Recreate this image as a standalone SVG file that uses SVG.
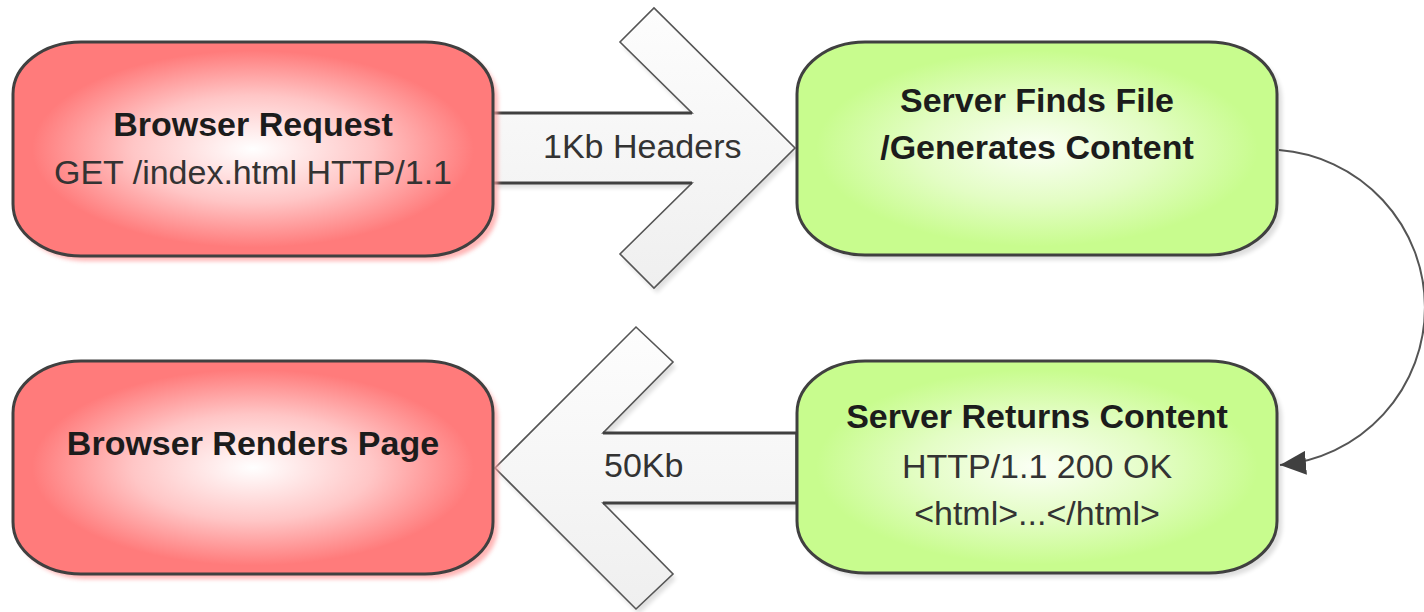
<svg xmlns="http://www.w3.org/2000/svg" width="1424" height="612" viewBox="0 0 1424 612">
<defs>
<radialGradient id="gRed" cx="0.5" cy="0.5" r="0.5">
<stop offset="0" stop-color="#ffffff"/>
<stop offset="0.5" stop-color="#ffc6c6"/>
<stop offset="0.92" stop-color="#ff7b7b"/>
</radialGradient>
<radialGradient id="gGreen" cx="0.5" cy="0.5" r="0.5">
<stop offset="0" stop-color="#fbfff5"/>
<stop offset="0.5" stop-color="#e3fdc4"/>
<stop offset="0.92" stop-color="#c8fc8e"/>
</radialGradient>
<linearGradient id="gArrow" x1="0" y1="0" x2="0" y2="1">
<stop offset="0" stop-color="#fdfdfd"/>
<stop offset="1" stop-color="#efefef"/>
</linearGradient>
<filter id="blur" x="-10%" y="-10%" width="120%" height="120%">
<feGaussianBlur stdDeviation="2"/>
</filter>
<marker id="head" markerWidth="28" markerHeight="24" refX="26" refY="12" orient="auto" markerUnits="userSpaceOnUse">
<path d="M0,0 L26,12 L0,24 Z" fill="#404040"/>
</marker>
</defs>
<style>
.node { stroke: #404040; stroke-width: 3; }
.shR { fill: #ff9c9c; opacity: 0.75; }
.shG { fill: #000; opacity: 0.13; }
.bold { font-family: "Liberation Sans", Arial, sans-serif; font-size: 34px; font-weight: bold; fill: #1c1c1c; text-anchor: middle; }
.reg { font-family: "Liberation Sans", Arial, sans-serif; font-size: 34px; fill: #333333; text-anchor: middle; }
.lbl { font-family: "Liberation Sans", Arial, sans-serif; font-size: 34px; fill: #333333; }
.arrow { fill: url(#gArrow); stroke: #555555; stroke-width: 1.6; stroke-linejoin: miter; }
.shaft { stroke: #404040; stroke-width: 3; fill: none; }
.ash { fill: #000; opacity: 0.12; }
.conn { fill: none; stroke: #555555; stroke-width: 2; }
</style>

<g id="connectors">
<g id="arrow-headers">
<polygon class="ash" filter="url(#blur)" transform="translate(3,5)" points="493,113 692,113 620,42 654,8 795,148 654,288 620,254 692,183 493,183"/>
<polygon class="arrow" points="493,113 692,113 620,42 654,8 795,148 654,288 620,254 692,183 493,183"/>
<path class="shaft" d="M493,113 H692 M493,183 H692"/>
<text class="lbl" x="543" y="158">1Kb Headers</text>
</g>
<g id="arrow-50kb">
<polygon class="ash" filter="url(#blur)" transform="translate(3,5)" points="796,433 603,433 673,362 636,327 495,468 636,609 673,574 603,503 796,503"/>
<polygon class="arrow" points="796,433 603,433 673,362 636,327 495,468 636,609 673,574 603,503 796,503"/>
<path class="shaft" d="M796,433 H603 M796,503 H603"/>
<text class="lbl" x="604" y="477">50Kb</text>
</g>
<path id="curve" class="conn" d="M1279,150 A158,158 0 0 1 1280,465" marker-end="url(#head)"/>
</g>

<g id="node-browser-request">
<rect class="shR" filter="url(#blur)" x="18" y="47" width="480" height="214" rx="68" ry="52"/>
<rect class="node" fill="url(#gRed)" x="13" y="42" width="480" height="214" rx="68" ry="52"/>
<text class="bold" x="253" y="136">Browser Request</text>
<text class="reg" x="253" y="184">GET /index.html HTTP/1.1</text>
</g>

<g id="node-server-finds">
<rect class="shG" filter="url(#blur)" x="802" y="47" width="480" height="213" rx="68" ry="52"/>
<rect class="node" fill="url(#gGreen)" x="797" y="42" width="480" height="213" rx="68" ry="52"/>
<text class="bold" x="1037" y="112">Server Finds File</text>
<text class="bold" x="1037" y="159">/Generates Content</text>
</g>

<g id="node-browser-renders">
<rect class="shR" filter="url(#blur)" x="18" y="366" width="480" height="213" rx="68" ry="52"/>
<rect class="node" fill="url(#gRed)" x="13" y="361" width="480" height="213" rx="68" ry="52"/>
<text class="bold" x="253" y="455">Browser Renders Page</text>
</g>

<g id="node-server-returns">
<rect class="shG" filter="url(#blur)" x="802" y="366" width="480" height="212" rx="68" ry="52"/>
<rect class="node" fill="url(#gGreen)" x="797" y="361" width="480" height="212" rx="68" ry="52"/>
<text class="bold" x="1037" y="428">Server Returns Content</text>
<text class="reg" x="1037" y="478">HTTP/1.1 200 OK</text>
<text class="reg" x="1037" y="525">&lt;html&gt;...&lt;/html&gt;</text>
</g>
</svg>
